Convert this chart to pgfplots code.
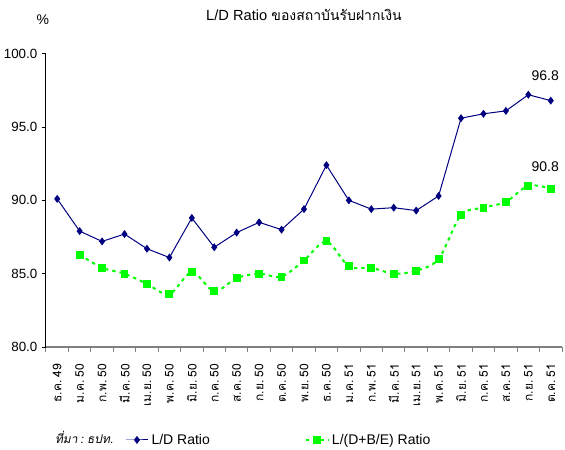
\documentclass[border=0pt]{standalone}
\usepackage{fontspec}
\setmainfont{Liberation Sans}
\newfontfamily\thai[Script=Thai]{Loma}
\newfontfamily\thaitick[Script=Thai,WordSpace=0.5]{Loma}
\newfontfamily\thaiit[Script=Thai,FakeSlant=0.2,WordSpace=0.6]{Loma}
\usepackage{pgfplots}
\pgfplotsset{compat=1.18}
\definecolor{ldnavy}{RGB}{0,0,128}
\definecolor{ldgreen}{RGB}{0,255,0}

\begin{document}
\begin{tikzpicture}
  % page = 565x450 px, 1px = 0.75pt; axis box origin at px (46,347)
  \useasboundingbox (-34.5pt,-77.25pt) rectangle (389.25pt,260.25pt);
  \begin{axis}[
    at={(0,0)}, anchor=south west,
    width=387pt, height=220pt, scale only axis,
    xmin=-0.5, xmax=22.5, ymin=80, ymax=100,
    ytick={80,85,90,95,100},
    xtick={0,1,...,22},
    minor xtick={-0.5,0.5,...,22.5},
    xticklabels={ธ.ค. 49, ม.ค. 50, ก.พ. 50, มี.ค. 50, เม.ย. 50, พ.ค. 50, มิ.ย. 50, ก.ค. 50, ส.ค. 50, ก.ย. 50, ต.ค. 50, พ.ย. 50, ธ.ค. 50, ม.ค. 51, ก.พ. 51, มี.ค. 51, เม.ย. 51, พ.ค. 51, มิ.ย. 51, ก.ค. 51, ส.ค. 51, ก.ย. 51, ต.ค. 51},
    xticklabel style={font=\thaitick\fontsize{9}{10}\selectfont, rotate=90, anchor=east},
    xticklabel shift=6pt,
    yticklabel style={font=\fontsize{10}{12}\selectfont},
    /pgf/number format/assume math mode=true,
    yticklabel={\pgfmathprintnumber[fixed,fixed zerofill,precision=1]{\tick}},
    axis x line*=bottom, axis y line*=left,
    axis line style={-},
    x axis line style={gray, line width=0.9pt},
    y axis line style={black, line width=0.75pt},
    tick align=outside,
    major x tick style={draw=none},
    minor x tick style={gray, line width=0.75pt},
    minor tick length=3.75pt,
    major tick length=3pt,
    y tick style={black, line width=0.6pt},
    legend columns=2,
    legend style={draw=none, fill=none, font=\fontsize{10.5}{12}\selectfont,
      at={(0.145,-0.317)}, anchor=west,
      /tikz/every even column/.append style={column sep=69pt}},
    clip=false,
  ]
    \addplot[ldnavy, line width=0.75pt, mark=diamond*, mark size=2.4pt,
      mark options={solid, fill=ldnavy}]
      coordinates {(0,90.1)(1,87.9)(2,87.2)(3,87.7)(4,86.7)(5,86.1)(6,88.8)
        (7,86.8)(8,87.8)(9,88.5)(10,88.0)(11,89.4)(12,92.4)(13,90.0)(14,89.4)
        (15,89.5)(16,89.3)(17,90.3)(18,95.6)(19,95.9)(20,96.1)(21,97.2)(22,96.8)};
    \addlegendentry{L/D Ratio}
    \addplot[ldgreen, line width=1.5pt, dash pattern=on 2.5pt off 3pt, smooth,
      mark=square*, mark size=2.2pt, mark options={solid, fill=ldgreen}]
      coordinates {(1,86.3)(2,85.4)(3,85.0)(4,84.3)(5,83.6)(6,85.1)
        (7,83.8)(8,84.7)(9,85.0)(10,84.8)(11,85.9)(12,87.2)(13,85.5)(14,85.4)
        (15,85.0)(16,85.2)(17,86.0)(18,89.0)(19,89.5)(20,89.9)(21,91.0)(22,90.8)};
    \addlegendentry{L/(D+B/E) Ratio}
    \node[font=\fontsize{10.5}{12}\selectfont] at (axis cs:21.75,98.5) {96.8};
    \node[font=\fontsize{10.5}{12}\selectfont] at (axis cs:21.75,92.3) {90.8};
    \node[font=\fontsize{10.5}{12}\selectfont] at (rel axis cs:-0.006,1.116) {\%};
    \node[font=\fontsize{11}{13}\selectfont] at (rel axis cs:0.5,1.133)
      {L/D Ratio {\thai\fontsize{10.5}{13}\selectfont ของสถาบันรับฝากเงิน}};
    \node[font=\thaiit\fontsize{9}{11}\selectfont, anchor=west, inner sep=0pt]
      at (rel axis cs:0.017,-0.307) {ที่มา : ธปท.};
  \end{axis}
\end{tikzpicture}
\end{document}
